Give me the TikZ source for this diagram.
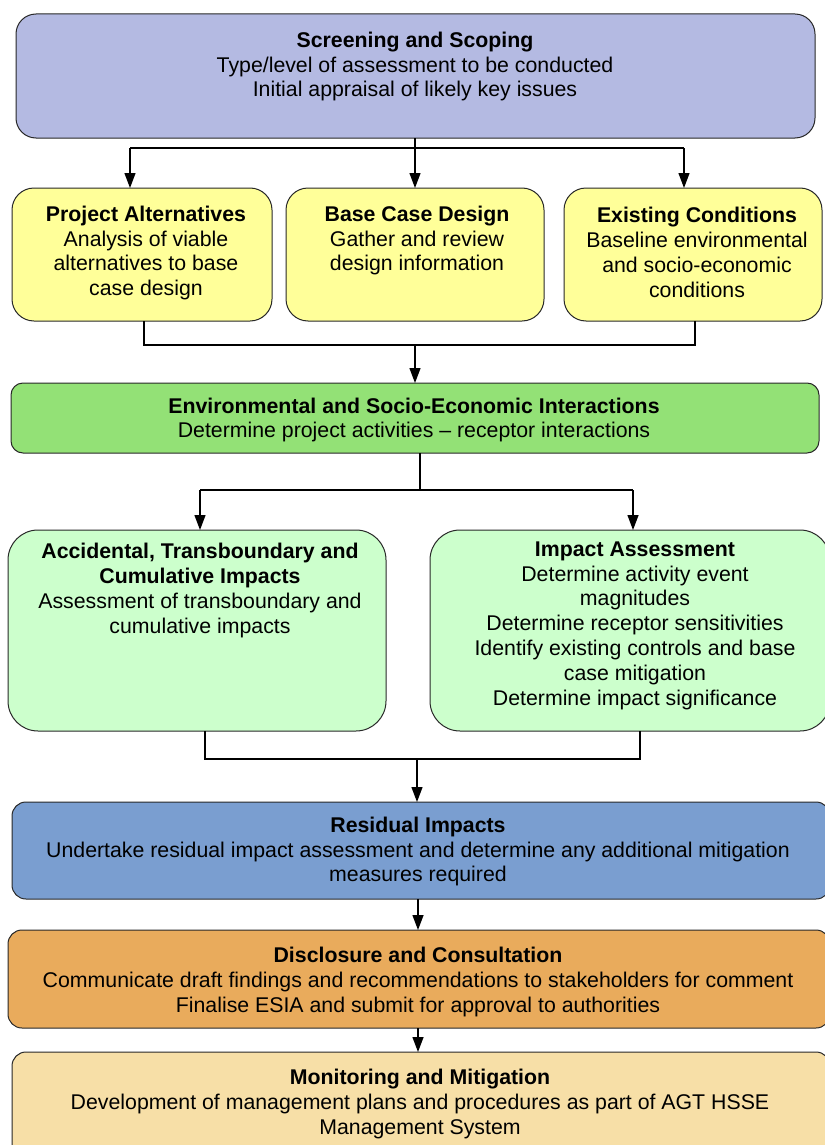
\documentclass[tikz,border=0pt]{standalone}
\usepackage{fontspec}
\setmainfont{Liberation Sans}
\usetikzlibrary{arrows.meta}
\definecolor{cScreen}{RGB}{180,186,226}
\definecolor{cYellow}{RGB}{255,255,153}
\definecolor{cEnv}{RGB}{147,225,118}
\definecolor{cLight}{RGB}{204,255,204}
\definecolor{cResid}{RGB}{122,158,208}
\definecolor{cDisc}{RGB}{233,171,92}
\definecolor{cMon}{RGB}{247,223,167}
\definecolor{cEdge}{RGB}{40,40,40}
\tikzset{
  box/.style={draw=cEdge, line width=1pt, rounded corners=#1},
  box/.default=20pt,
  txt/.style={align=center, font=\fontsize{21.3}{24.8}\selectfont, inner sep=0pt},
  conn/.style={line width=1.3pt, black},
  arr/.style={conn, -{Triangle[length=15pt,width=11pt]}}
}
\begin{document}
\begin{tikzpicture}[x=1pt,y=-1pt]
\useasboundingbox (0,0) rectangle (824,1145);
% boxes
\draw[box, fill=cScreen] (16,14) rectangle (815,138);
\coordinate (sS) at (415,138);
\draw[box=22pt, fill=cYellow] (12,188) rectangle (272,321);
\draw[box=22pt, fill=cYellow] (286,188) rectangle (544,321);
\draw[box=22pt, fill=cYellow] (564,188) rectangle (822,321);
\draw[box=12pt, fill=cEnv] (11,383) rectangle (819,453);
\draw[box=30pt, fill=cLight] (8,530) rectangle (386,731);
\draw[box=30pt, fill=cLight] (430,530) rectangle (830,731);
\draw[box=14pt, fill=cResid] (12,802) rectangle (830,899);
\draw[box=14pt, fill=cDisc] (8,930) rectangle (830,1028);
\draw[box=14pt, fill=cMon] (12,1052) rectangle (830,1170);
% texts
\node[txt] (tS) at (415,66.5) {\textbf{Screening and Scoping}\\Type/level of assessment to be conducted\\Initial appraisal of likely key issues};
\node[txt] (tPA) at (146,253) {\textbf{Project Alternatives}\\Analysis of viable\\alternatives to base\\case design};
\node[txt] (tBC) at (417,240.5) {\textbf{Base Case Design}\\Gather and review\\design information};
\node[txt] (tEC) at (697,252.5) {\textbf{Existing Conditions}\\Baseline environmental\\and socio-economic\\conditions};
\node[txt] (tEnv) at (414,420) {\textbf{Environmental and Socio-Economic Interactions}\\Determine project activities -- receptor interactions};
\node[txt] (tAcc) at (200,590.5) {\textbf{Accidental, Transboundary and}\\\textbf{Cumulative Impacts}\\Assessment of transboundary and\\cumulative impacts};
\node[txt] (tIA) at (635,625.5) {\textbf{Impact Assessment}\\Determine activity event\\magnitudes\\Determine receptor sensitivities\\Identify existing controls and base\\case mitigation\\Determine impact significance};
\node[txt] (tRes) at (418,851.5) {\textbf{Residual Impacts}\\Undertake residual impact assessment and determine any additional mitigation\\measures required};
\node[txt] (tDis) at (418,982) {\textbf{Disclosure and Consultation}\\Communicate draft findings and recommendations to stakeholders for comment\\Finalise ESIA and submit for approval to authorities};
\node[txt] (tMon) at (420,1104) {\textbf{Monitoring and Mitigation}\\Development of management plans and procedures as part of AGT HSSE\\Management System};
% connector coordinates
\coordinate (jS) at (415,148);
\coordinate (jSL) at (130,148);
\coordinate (jSR) at (684,148);
\coordinate (aPA) at (130,188);
\coordinate (aBC) at (415,188);
\coordinate (aEC) at (684,188);
\coordinate (bPA) at (144,321);
\coordinate (bEC) at (695,321);
\coordinate (jYL) at (144,345);
\coordinate (jYR) at (695,345);
\coordinate (jY) at (415,345);
\coordinate (aEnv) at (415,383);
\coordinate (bEnv) at (420,453);
\coordinate (jE) at (420,490);
\coordinate (jEL) at (200,490);
\coordinate (jER) at (633,490);
\coordinate (aAcc) at (200,530);
\coordinate (aIA) at (633,530);
\coordinate (bAcc) at (205,731);
\coordinate (bIA) at (640,731);
\coordinate (jLL) at (205,759);
\coordinate (jLR) at (640,759);
\coordinate (jL) at (417,759);
\coordinate (aRes) at (417,802);
\coordinate (bRes) at (418,899);
\coordinate (aDis) at (418,930);
\coordinate (bDis) at (418,1028);
\coordinate (aMon) at (418,1052);
% connectors
\draw[conn] (jSL) -- (jSR);
\draw[arr] (sS) -- (aBC);
\draw[arr] (jSL) -- (aPA);
\draw[arr] (jSR) -- (aEC);
\draw[conn] (bPA) -- (jYL) -- (jYR) -- (bEC);
\draw[arr] (jY) -- (aEnv);
\draw[conn] (bEnv) -- (jE);
\draw[conn] (jEL) -- (jER);
\draw[arr] (jEL) -- (aAcc);
\draw[arr] (jER) -- (aIA);
\draw[conn] (bAcc) -- (jLL) -- (jLR) -- (bIA);
\draw[arr] (jL) -- (aRes);
\draw[arr] (bRes) -- (aDis);
\draw[arr] (bDis) -- (aMon);
\end{tikzpicture}
\end{document}
